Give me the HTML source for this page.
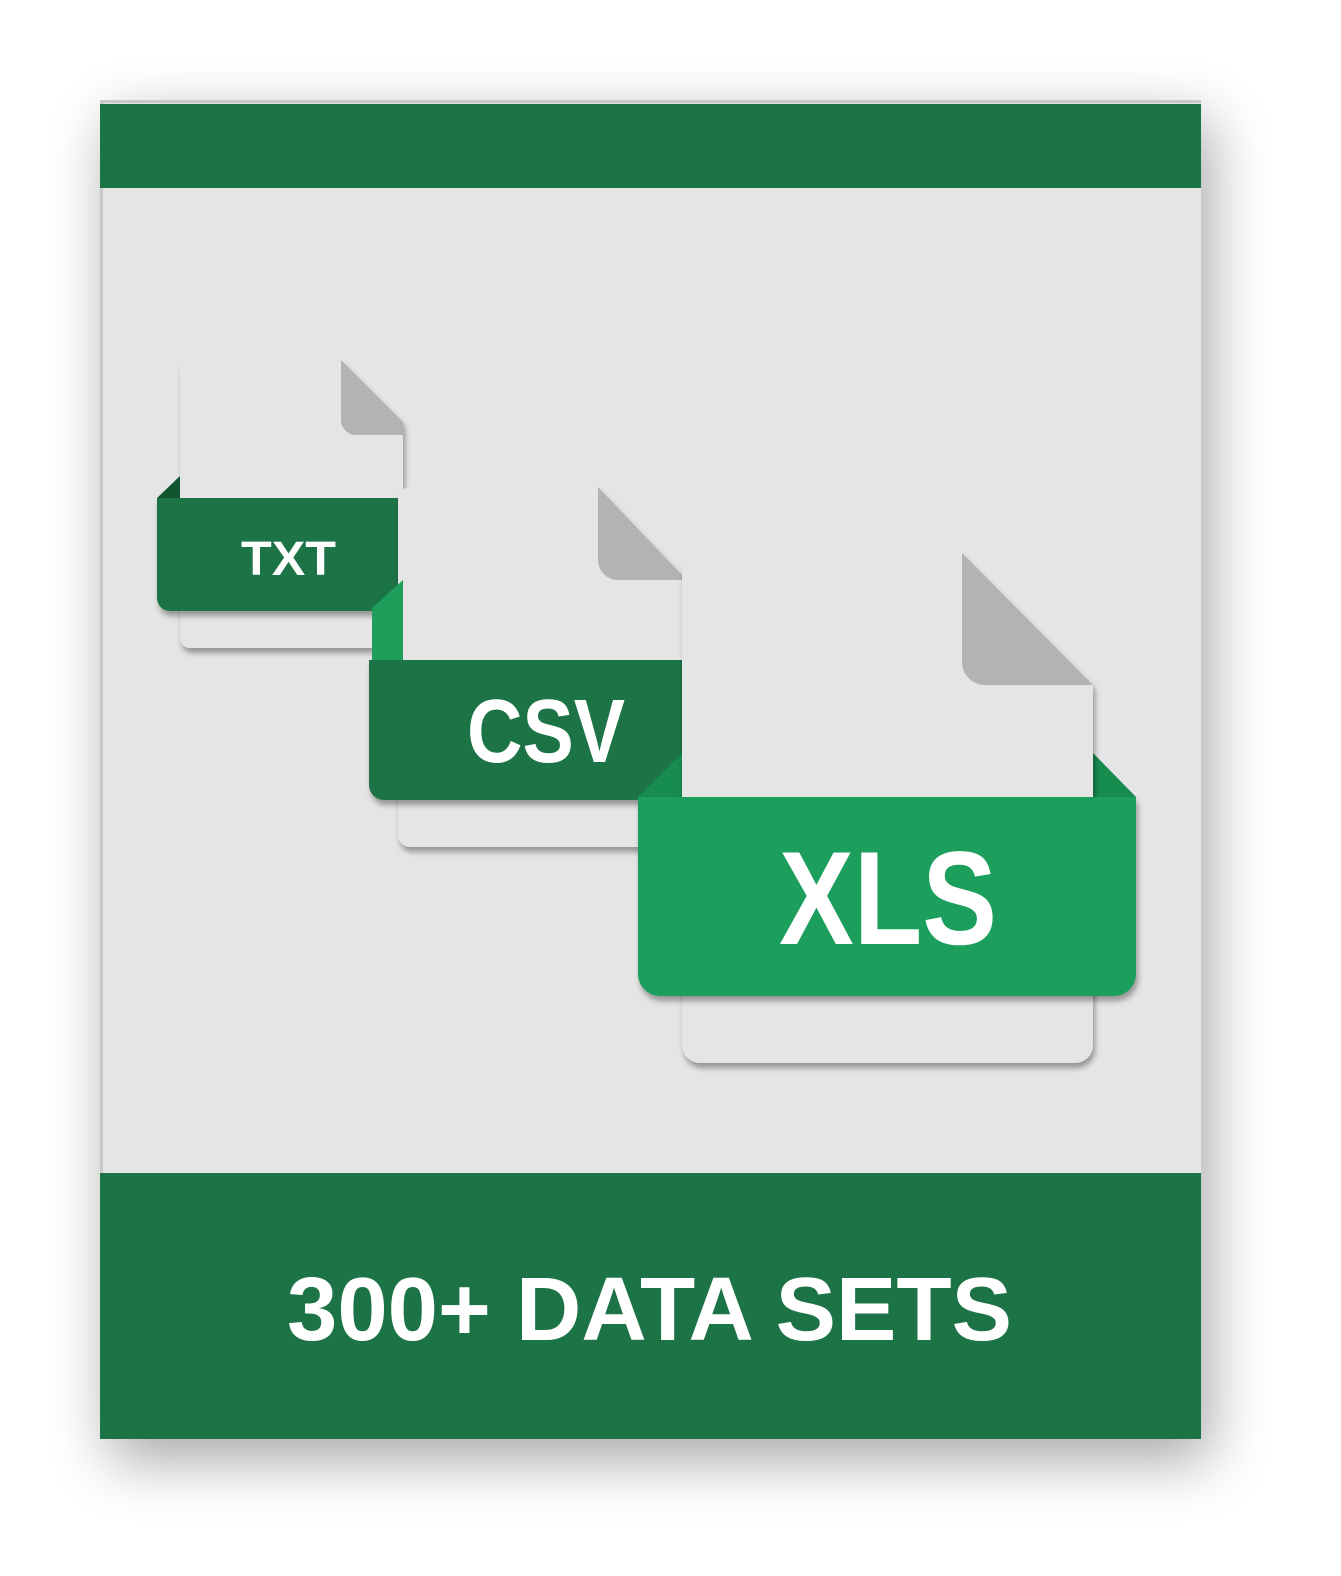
<!DOCTYPE html>
<html><head><style>
html,body{margin:0;padding:0;background:#fff;overflow:hidden;width:1341px;height:1576px;}
svg{display:block;}
text{font-family:"Liberation Sans",sans-serif;font-weight:bold;fill:#fff;}
</style></head><body>
<svg width="1341" height="1576" viewBox="0 0 1341 1576" xmlns="http://www.w3.org/2000/svg">
<defs>
<filter id="sh" x="-20%" y="-20%" width="140%" height="140%"><feGaussianBlur stdDeviation="30"/></filter>
<filter id="ds" x="-10%" y="-10%" width="120%" height="130%"><feDropShadow dx="2" dy="5" stdDeviation="3" flood-color="#000" flood-opacity="0.35"/></filter>
<filter id="ds2" x="-10%" y="-10%" width="120%" height="130%"><feDropShadow dx="0" dy="0" stdDeviation="1.5" flood-color="#000" flood-opacity="0.25"/></filter>
</defs>
<rect x="110" y="120" width="1100" height="1340" fill="#000" opacity="0.35" filter="url(#sh)"/>
<rect x="100" y="100" width="1101" height="1339" fill="#e5e5e5"/>
<rect x="100" y="100" width="3" height="1339" fill="#c8c8c8"/>
<rect x="100" y="100" width="1101" height="3" fill="#c8c8c8"/>
<rect x="100" y="104" width="1101" height="84" fill="#1c7345"/>
<rect x="100" y="1173" width="1101" height="266" fill="#1c7345"/>
<text x="287" y="1340" font-size="90" textLength="725" lengthAdjust="spacingAndGlyphs">300+ DATA SETS</text>

<!-- TXT -->
<g filter="url(#ds)">
<path d="M190 360 H341 L403 422 V638 a10 10 0 0 1 -10 10 H190 a10 10 0 0 1 -10 -10 V370 a10 10 0 0 1 10 -10Z" fill="#e5e5e5"/>
</g>
<path d="M341 360 L403 422 V435 H356 a15 15 0 0 1 -15 -15Z" fill="#b3b3b3"/>
<path d="M157 498 L180 476 V498Z" fill="#0f5530"/>
<g filter="url(#ds)">
<path d="M157 498 H403 V611 H170 a13 13 0 0 1 -13 -13Z" fill="#1c7345"/>
</g>
<text x="241" y="575" font-size="48" textLength="95" lengthAdjust="spacingAndGlyphs">TXT</text>

<!-- CSV -->
<g filter="url(#ds)">
<path d="M410 487 H598 L682 575 V847 H410 a12 12 0 0 1 -12 -12 V499 a12 12 0 0 1 12 -12Z" fill="#e5e5e5"/>
</g>
<path d="M598 487 L682 575 V580 H618 a20 20 0 0 1 -20 -20Z" fill="#b3b3b3"/>
<path d="M372 608 L403 580 V660 H372Z" fill="#1d9e5a"/>
<g filter="url(#ds)">
<path d="M369 660 H682 V800 H384 a15 15 0 0 1 -15 -15Z" fill="#1c7345"/>
</g>
<text x="467" y="762" font-size="90" textLength="158" lengthAdjust="spacingAndGlyphs">CSV</text>

<!-- XLS -->
<path d="M638 797 L682 753 V797Z" fill="#178c4f"/>
<path d="M1136 797 L1093 753 V797Z" fill="#178c4f"/>
<g filter="url(#ds)">
<path d="M700 553 H962 L1093 685 V1045 a18 18 0 0 1 -18 18 H700 a18 18 0 0 1 -18 -18 V571 a18 18 0 0 1 18 -18Z" fill="#e5e5e5"/>
</g>
<path d="M962 553 L1093 685 H985 a23 23 0 0 1 -23 -23Z" fill="#b3b3b3"/>
<g filter="url(#ds)">
<path d="M638 797 H1136 V974 a22 22 0 0 1 -22 22 H660 a22 22 0 0 1 -22 -22Z" fill="#1c9e5c"/>
</g>
<text x="779" y="944" font-size="133" textLength="218" lengthAdjust="spacingAndGlyphs">XLS</text>
</svg>
</body></html>
